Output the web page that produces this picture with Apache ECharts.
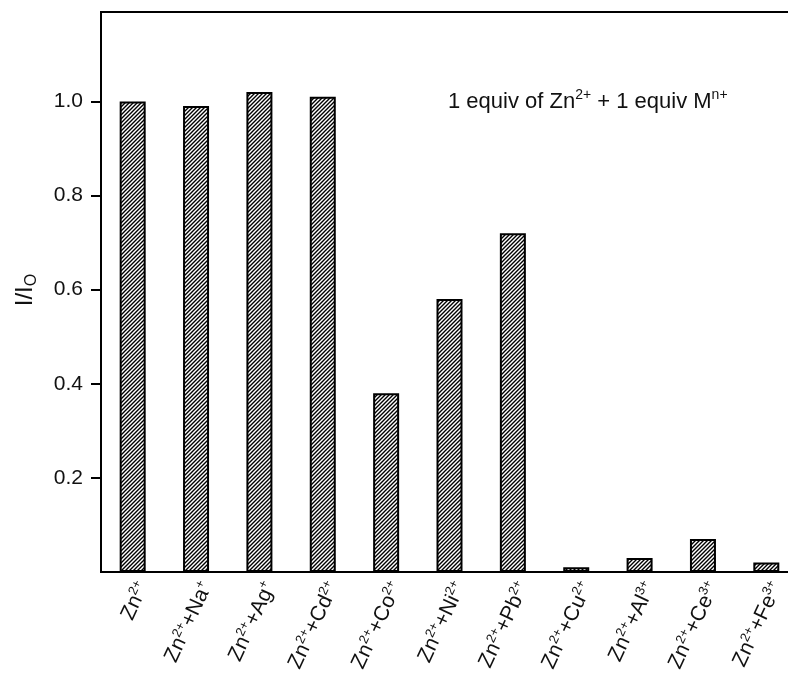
<!DOCTYPE html>
<html>
<head>
<meta charset="utf-8">
<script src="https://cdn.jsdelivr.net/npm/echarts@6/dist/echarts.min.js"></script>
<style>
  html, body { margin: 0; padding: 0; background: #fff; }
  #chart { width: 788px; height: 674px; }
</style>
</head>
<body>
<div id="chart"></div>
<script>
// Relative fluorescence intensity of the Zn2+ complex after adding one equivalent of each metal ion
const categories = ['Zn2+', 'Zn2++Na+', 'Zn2++Ag+', 'Zn2++Cd2+', 'Zn2++Co2+', 'Zn2++Ni2+',
                    'Zn2++Pb2+', 'Zn2++Cu2+', 'Zn2++Al3+', 'Zn2++Ce3+', 'Zn2++Fe3+'];
// added metal ion and its charge for each category ('' = zinc only)
const addedMetals  = ['', 'Na', 'Ag', 'Cd', 'Co', 'Ni', 'Pb', 'Cu', 'Al', 'Ce', 'Fe'];
const addedCharges = ['', '+',  '+',  '2+', '2+', '2+', '2+', '2+', '3+', '3+', '3+'];
const ratioValues  = [1.00, 0.99, 1.02, 1.01, 0.38, 0.58, 0.72, 0.01, 0.03, 0.07, 0.02];
const yTickValues  = [0.2, 0.4, 0.6, 0.8, 1.0];

const FONT = '"Liberation Sans", Arial, sans-serif';

// diagonal "/" hatch fill for the bars
function makeHatch() {
  const s = 4;
  const c = document.createElement('canvas');
  c.width = s; c.height = s;
  const g = c.getContext('2d');
  g.fillStyle = '#fff';
  g.fillRect(0, 0, s, s);
  g.strokeStyle = '#000';
  g.lineWidth = 1.4;
  g.beginPath();
  g.moveTo(-1, s + 1); g.lineTo(s + 1, -1);
  g.moveTo(-1, 1); g.lineTo(1, -1);
  g.moveTo(s - 1, s + 1); g.lineTo(s + 1, s - 1);
  g.stroke();
  return c;
}

const chart = echarts.init(document.getElementById('chart'), null, { renderer: 'canvas' });

const baseStyle = { fontSize: 21, fontFamily: FONT, color: '#111', lineHeight: 24 };
const supStyle  = { fontSize: 13, fontFamily: FONT, color: '#111', verticalAlign: 'top', lineHeight: 24 };

chart.setOption({
  animation: false,
  backgroundColor: '#fff',
  // the plot frame runs on past the right edge of the canvas
  grid: {
    left: 101, top: 12, width: 697, height: 560,
    outerBoundsMode: 'none',
    containLabel: false,
    show: true, borderColor: '#000', borderWidth: 2, backgroundColor: 'transparent'
  },
  xAxis: {
    type: 'category',
    data: categories,
    axisLine: { lineStyle: { color: '#000', width: 2 } },
    axisTick: { show: false },
    axisLabel: {
      rotate: 65,
      margin: 6,
      interval: 0,
      verticalAlign: 'top',
      formatter: function (v, i) {
        let t = '{b|Zn}{s|2+}';
        if (addedMetals[i]) t += '{b|+' + addedMetals[i] + '}{s|' + addedCharges[i] + '}';
        return t;
      },
      rich: { b: baseStyle, s: supStyle }
    }
  },
  yAxis: {
    type: 'value',
    min: 0,
    max: 1.19,
    interval: 0.2,
    splitLine: { show: false },
    axisLine: { show: true, lineStyle: { color: '#000', width: 2 } },
    axisTick: { show: true, length: 10, customValues: yTickValues, lineStyle: { color: '#000', width: 2 } },
    axisLabel: {
      margin: 18,
      customValues: yTickValues,
      formatter: function (v) { return v.toFixed(1); },
      fontSize: 21, fontFamily: FONT, color: '#111'
    }
  },
  graphic: [
    {
      type: 'text',
      x: 25, y: 290,
      rotation: Math.PI / 2,
      style: {
        text: '{b|I/I}{o|O}',
        align: 'center',
        verticalAlign: 'middle',
        rich: {
          b: { fontSize: 24, fontFamily: FONT, fill: '#111', lineHeight: 30 },
          o: { fontSize: 16, fontFamily: FONT, fill: '#111', verticalAlign: 'bottom', lineHeight: 30 }
        }
      }
    },
    {
      type: 'text',
      x: 448, y: 102,
      style: {
        text: '{b|1 equiv of Zn}{s|2+}{b| + 1 equiv M}{s|n+}',
        align: 'left',
        verticalAlign: 'middle',
        rich: {
          b: { fontSize: 22, fontFamily: FONT, fill: '#111', lineHeight: 28 },
          s: { fontSize: 14, fontFamily: FONT, fill: '#111', verticalAlign: 'top', lineHeight: 28 }
        }
      }
    }
  ],
  series: [{
    type: 'bar',
    data: ratioValues,
    barWidth: 26,
    itemStyle: {
      color: { image: makeHatch(), repeat: 'repeat' },
      borderColor: '#000',
      borderWidth: 2
    }
  }]
});
</script>
</body>
</html>
